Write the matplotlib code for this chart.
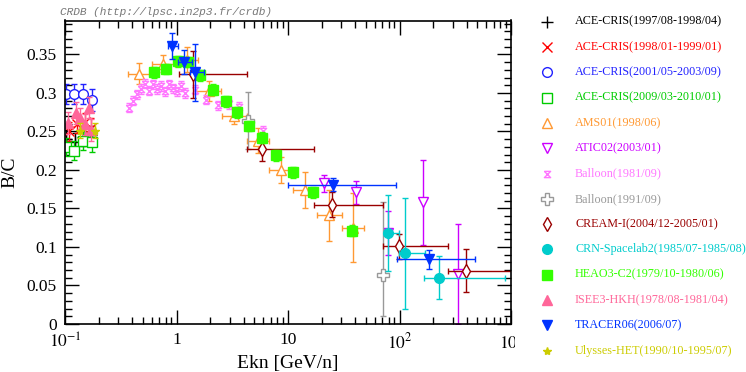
import numpy as np
import matplotlib
matplotlib.use('Agg')
import matplotlib.pyplot as plt
from matplotlib.path import Path
from matplotlib.ticker import MultipleLocator, FuncFormatter, LogLocator

plt.rcParams['font.family'] = ['Liberation Serif', 'DejaVu Serif']
plt.rcParams['mathtext.fontset'] = 'stix'

# ---- data ----
ace97_x = [0.102, 0.122, 0.145, 0.172]
ace97_y = [0.240, 0.236, 0.243, 0.245]
ace97_yerr = [0.012, 0.012, 0.012, 0.012]

ace98_x = [0.108, 0.128, 0.150, 0.170]
ace98_y = [0.250, 0.260, 0.262, 0.255]
ace98_yerr = [0.012, 0.012, 0.012, 0.012]

ace01_x = [0.102, 0.121, 0.144, 0.176]
ace01_y = [0.298, 0.298, 0.298, 0.291]
ace01_yerr = [0.013, 0.013, 0.013, 0.014]

ace09_x = [0.102, 0.121, 0.144, 0.176]
ace09_y = [0.230, 0.225, 0.238, 0.236]
ace09_yerr = [0.012, 0.012, 0.012, 0.013]

ams_x = [0.46, 0.76, 1.25, 1.95, 3.3, 5.4, 8.6, 14.2, 23.4, 38.0]
ams_y = [0.325, 0.338, 0.343, 0.302, 0.270, 0.238, 0.200, 0.174, 0.141, 0.125]
ams_xlo = [0.37, 0.60, 1.00, 1.51, 2.57, 4.27, 6.8, 11.0, 18.3, 30.4]
ams_xhi = [0.60, 0.97, 1.55, 2.53, 4.27, 6.8, 10.7, 18.2, 30.4, 48.4]
ams_yerr = [0.014, 0.011, 0.016, 0.013, 0.011, 0.016, 0.017, 0.023, 0.033, 0.045]

atic_x = [21.0, 40.7, 79.0, 161.0, 336.0]
atic_y = [0.183, 0.171, 0.118, 0.158, 0.065]
atic_yerr = [0.011, 0.015, 0.029, 0.055, 0.065]

b81_x = [0.375, 0.407, 0.443, 0.481, 0.522, 0.566, 0.615, 0.668, 0.726, 0.789,
         0.857, 0.931, 1.01, 1.10, 1.19, 1.47, 1.84, 2.36, 2.95, 3.67, 6.0]
b81_y = [0.281, 0.290, 0.298, 0.305, 0.312, 0.303, 0.311, 0.305, 0.309, 0.302,
         0.311, 0.306, 0.302, 0.309, 0.300, 0.304, 0.291, 0.284, 0.285, 0.282, 0.251]
b81_yerr = 0.006

b91_x = [4.35, 70.6]
b91_y = [0.264, 0.064]
b91_ylo = [0.227, 0.010]
b91_yhi = [0.301, 0.158]

cream_x = [1.4, 5.9, 25.0, 99.0, 395.0]
cream_y = [0.324, 0.227, 0.155, 0.101, 0.069]
cream_xlo = [1.05, 4.27, 17.2, 70.6, 275.0]
cream_xhi = [4.27, 17.2, 70.6, 275.0, 1100.0]
cream_yerr = [0.031, 0.015, 0.016, 0.016, 0.028]

crn_x = [79.5, 112.0, 227.0]
crn_y = [0.118, 0.092, 0.060]
crn_xlo = [72.0, 99.0, 166.0]
crn_xhi = [99.0, 168.0, 885.0]
crn_yerr = [0.049, 0.072, 0.028]

heao_x = [0.63, 0.80, 1.04, 1.28, 1.62, 2.11, 2.76, 3.47, 4.5, 5.8, 7.85, 11.2, 16.9, 37.2]
heao_y = [0.327, 0.331, 0.341, 0.340, 0.323, 0.304, 0.289, 0.275, 0.257, 0.242,
          0.219, 0.197, 0.171, 0.121]
heao_yerr = 0.007

isee_x = [0.107, 0.126, 0.137, 0.150, 0.163, 0.172]
isee_y = [0.261, 0.274, 0.267, 0.259, 0.281, 0.252]
isee_yerr = 0.014

tracer_x = [0.92, 1.17, 1.47, 25.5, 184.0]
tracer_y = [0.361, 0.340, 0.327, 0.181, 0.084]
tracer_xlo = [0.84, 1.04, 1.32, 10.0, 94.0]
tracer_xhi = [1.03, 1.37, 1.77, 93.0, 480.0]
tracer_yerr = [0.017, 0.016, 0.037, 0.008, 0.012]

uly_x = [0.136, 0.186]
uly_y = [0.251, 0.251]
uly_yerr = 0.010

labels = ['ACE-CRIS(1997/08-1998/04)', 'ACE-CRIS(1998/01-1999/01)', 'ACE-CRIS(2001/05-2003/09)',
          'ACE-CRIS(2009/03-2010/01)', 'AMS01(1998/06)', 'ATIC02(2003/01)', 'Balloon(1981/09)',
          'Balloon(1991/09)', 'CREAM-I(2004/12-2005/01)', 'CRN-Spacelab2(1985/07-1985/08)',
          'HEAO3-C2(1979/10-1980/06)', 'ISEE3-HKH(1978/08-1981/04)', 'TRACER06(2006/07)',
          'Ulysses-HET(1990/10-1995/07)']

hourglass = Path([(-1, 1), (1, 1), (-1, -1), (1, -1), (-1, 1)],
                 [Path.MOVETO, Path.LINETO, Path.LINETO, Path.LINETO, Path.LINETO])

# colour, marker, filled, size
styles = [('black', '+', True, 8), ('#ff0000', 'x', True, 7), ('#2222ff', 'o', False, 7),
          ('#00cc00', 's', False, 7), ('#ff9933', '^', False, 7.5), ('#cc00ff', 'v', False, 7.5),
          ('#ff77ff', hourglass, False, 4.5), ('#999999', 'P', False, 8), ('#990000', 'd', False, 7),
          ('#00cccc', 'o', True, 7), ('#33ff00', 's', True, 7), ('#ff6699', '^', True, 7),
          ('#0033ff', 'v', True, 7.5), ('#cccc00', '*', True, 6)]

fig = plt.figure(figsize=(7.46, 3.72), dpi=100)
ax = fig.add_axes([65 / 746, 48 / 372, 446 / 746, 303.5 / 372])


def draw(i, x, y, xerr=None, yerr=None):
    c, m, filled, ms = styles[i]
    ax.errorbar(x, y, xerr=xerr, yerr=yerr, fmt='none', ecolor=c, elinewidth=1.0,
                capsize=2.5, capthick=1.0)
    ax.plot(x, y, ls='none', marker=m, ms=ms, color=c,
            mfc=c if filled else 'white', mec=c, mew=1.0)


def edges(x, lo, hi):
    x = np.array(x)
    return [x - np.array(lo), np.array(hi) - x]


draw(0, ace97_x, ace97_y, yerr=ace97_yerr)
draw(1, ace98_x, ace98_y, yerr=ace98_yerr)
draw(2, ace01_x, ace01_y, yerr=ace01_yerr)
draw(3, ace09_x, ace09_y, yerr=ace09_yerr)
draw(4, ams_x, ams_y, xerr=edges(ams_x, ams_xlo, ams_xhi), yerr=ams_yerr)
draw(5, atic_x, atic_y, yerr=atic_yerr)
draw(6, b81_x, b81_y, yerr=b81_yerr)
draw(7, b91_x, b91_y, yerr=edges(b91_y, b91_ylo, b91_yhi))
draw(8, cream_x, cream_y, xerr=edges(cream_x, cream_xlo, cream_xhi), yerr=cream_yerr)
draw(9, crn_x, crn_y, xerr=edges(crn_x, crn_xlo, crn_xhi), yerr=crn_yerr)
draw(10, heao_x, heao_y, yerr=heao_yerr)
draw(11, isee_x, isee_y, yerr=isee_yerr)
draw(12, tracer_x, tracer_y, xerr=edges(tracer_x, tracer_xlo, tracer_xhi), yerr=tracer_yerr)
draw(13, uly_x, uly_y, yerr=uly_yerr)

ax.set_xscale('log')
ax.set_xlim(0.1, 1000)
ax.set_ylim(0, 0.394)
ax.set_xticks([0.1, 1, 10, 100, 1000])
ax.set_xticklabels(['$10^{-1}$', '1', '10', '$10^{2}$', '$10^{3}$'])
ax.xaxis.set_minor_locator(LogLocator(base=10, subs=np.arange(2, 10)))
ax.yaxis.set_major_locator(MultipleLocator(0.05))
ax.yaxis.set_minor_locator(MultipleLocator(0.01))
ax.yaxis.set_major_formatter(FuncFormatter(lambda v, p: '%g' % round(v, 3)))
ax.tick_params(which='both', direction='in', top=True, right=True, labelsize=12.5, width=1)
ax.tick_params(which='major', length=10, pad=6)
ax.tick_params(which='minor', length=5)
for s in ax.spines.values():
    s.set_linewidth(1.2)
ax.set_xlabel('Ekn [GeV/n]', fontsize=14, labelpad=2)
ax.set_ylabel('B/C', fontsize=14, labelpad=6)

fig.text(60 / 746, 1 - 12 / 372, 'CRDB (http://lpsc.in2p3.fr/crdb)', family='Liberation Mono',
         style='italic', color='#777777', fontsize=8, va='center')

# legend panel (covers the clipped 10^3 label like the original)
lax = fig.add_axes([515 / 746, 0, 231 / 746, 1])
lax.set_xlim(515, 746)
lax.set_ylim(372, 0)
lax.set_xticks([])
lax.set_yticks([])
for s in lax.spines.values():
    s.set_visible(False)
for i, lab in enumerate(labels):
    c, m, filled, ms = styles[i]
    yy = 21.7 + i * 25.3
    lax.plot([547], [yy], ls='none', marker=m, ms=ms, color=c,
             mfc=c if filled else 'white', mec=c, mew=1.0)
    lax.text(575, yy, lab, color=c, fontsize=8.7, va='center', ha='left')

fig.savefig('out.png', dpi=100)
